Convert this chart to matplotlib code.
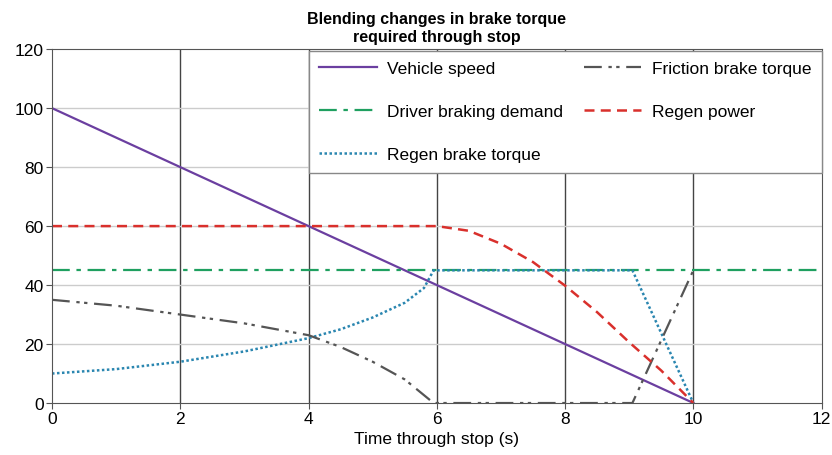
import numpy as np
import matplotlib

matplotlib.use('Agg')
import matplotlib.pyplot as plt

plt.rcParams['font.family'] = ['Liberation Sans', 'DejaVu Sans']

# data
speed_t = [0, 10]
speed_v = [100, 0]

demand_t = [0, 12]
demand_v = [45, 45]

regen_power_t = [0, 6, 6.5, 7, 7.5, 8, 8.5, 9, 9.5, 10]
regen_power_v = [60, 60, 58.4, 54, 47.8, 39.8, 30.8, 20.6, 11, 0]

regen_torque_t = [0, 1, 2, 3, 4, 4.5, 5, 5.5, 5.8, 5.95, 9.05, 10]
regen_torque_v = [10, 11.5, 14, 17.5, 22, 25, 29, 34, 39, 45, 45, 0]

friction_t = [0, 1, 2, 3, 4, 4.5, 5, 5.5, 5.95, 9.05, 10]
friction_v = [35, 33, 30, 27, 23, 19, 14, 8, 0, 0, 45]

xticks = np.arange(0, 13, 2)
yticks = np.arange(0, 121, 20)

fig = plt.figure(figsize=(8.32, 4.56), dpi=100)
ax = fig.add_axes([0.0625, 0.114, 0.925, 0.776])

l1, = ax.plot(speed_t, speed_v, color='#6B3FA0', lw=1.6, ls='-', label='Vehicle speed')
l2, = ax.plot(demand_t, demand_v, color='#1FA060', lw=1.6, ls=(0, (8, 3, 2, 3)), label='Driver braking demand')
l3, = ax.plot(regen_torque_t, regen_torque_v, color='#2A86B0', lw=1.8, ls=(0, (1, 1)), label='Regen brake torque')
l4, = ax.plot(friction_t, friction_v, color='#555555', lw=1.6, ls=(0, (8, 3, 1.5, 2, 1.5, 3)), label='Friction brake torque')
l5, = ax.plot(regen_power_t, regen_power_v, color='#D9302C', lw=1.8, ls=(0, (4, 2.5)), label='Regen power')

ax.set_xlim(0, 12)
ax.set_ylim(0, 120)
ax.set_xticks(xticks)
ax.set_yticks(yticks)
ax.tick_params(labelsize=12.5, length=4, color='#555555', pad=2)
for x in xticks[1:-1]:
    ax.axvline(x, color='#444444', lw=1.0, zorder=0)
for y in yticks[1:-1]:
    ax.axhline(y, color='#cccccc', lw=1.0, zorder=0)
for s in ax.spines.values():
    s.set_color('#555555')

ax.set_xlabel('Time through stop (s)', fontsize=12.5, labelpad=3)
ax.set_title('Blending changes in brake torque\nrequired through stop', fontsize=11.5,
             fontweight='bold', pad=6)

leg = ax.legend(handles=[l1, l2, l3, l4, l5], ncol=2, loc='upper right',
                bbox_to_anchor=(1.0, 0.995), fontsize=12.5, labelspacing=1.6,
                handlelength=3.3, handletextpad=0.6, columnspacing=1.2,
                fancybox=False, framealpha=1, borderaxespad=0.0, borderpad=0.6)
leg.get_frame().set_edgecolor('#888888')

plt.savefig('out.png', dpi=100)
